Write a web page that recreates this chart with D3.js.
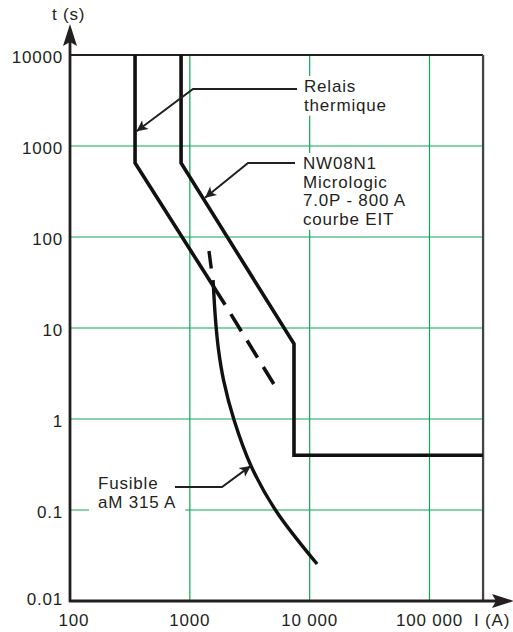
<!DOCTYPE html>
<html>
<head>
<meta charset="utf-8">
<script src="https://cdn.jsdelivr.net/npm/d3@7"></script>
<style>
    body { margin: 0; background: #fff; }
    svg text { font-family: "Liberation Sans", Arial, sans-serif; font-size: 17px; letter-spacing: 0.8px; fill: #231f20; }
</style>
</head>
<body>
<svg id="chart" width="513" height="632"></svg>
<script>
// ticks
const yTicks = [0.01, 0.1, 1, 10, 100, 1000, 10000]
const yTickLabels = ['0.01', '0.1', '1', '10', '100', '1000', '10000']
const xTicks = [100, 1000, 10000, 100000]
const xTickLabels = ['100', '1000', '10 000', '100 000']
const xMax = 280000

// curves [I (A), t (s)]
const relayCurve = [[349, 10000], [349, 650], [1970, 18]]
const relayDashed = [[1970, 18], [5110, 2.33]]
const micrologicCurve = [[845, 10000], [845, 650], [7400, 6.7], [7400, 0.4], [280000, 0.4]]
const fuseDashed = [[1445, 70], [1510, 45]]
const fuseCurve = [[1563, 33.6], [1639, 12.2], [1736, 5.73], [1911, 2.68], [2339, 0.975],
    [3243, 0.305], [5246, 0.0975], [11530, 0.0255]]

// labels
const relayLabel = ['Relais', 'thermique']
const micrologicLabel = ['NW08N1', 'Micrologic', '7.0P - 800 A', 'courbe EIT']
const fuseLabel = ['Fusible', 'aM 315 A']
const relayTarget = [349, 1450]
const micrologicTarget = [1340, 270]
const fuseTarget = [3220, 0.305]

const ink = '#231f20'
const gridGreen = '#0aa956'

const svg = d3.select('#chart')

const x = d3.scaleLog().domain([100, 100000]).range([70, 429.5])
const y = d3.scaleLog().domain([0.01, 10000]).range([601, 55])
const plotLeft = x(100), plotRight = x(xMax), plotTop = y(10000), plotBottom = y(0.01)

svg.append('defs').append('marker')
    .attr('id', 'arrow')
    .attr('viewBox', '0 0 10 10')
    .attr('refX', 10).attr('refY', 5)
    .attr('markerWidth', 15).attr('markerHeight', 11)
    .attr('markerUnits', 'userSpaceOnUse')
    .attr('orient', 'auto')
    .append('path').attr('d', 'M0,0 L10,5 L0,10 L2.5,5 Z').attr('fill', ink)

// grid
svg.append('g').selectAll('line')
    .data(yTicks.filter(d => d > 0.01 && d < 10000))
    .join('line')
    .attr('x1', plotLeft).attr('x2', plotRight)
    .attr('y1', d => y(d)).attr('y2', d => y(d))
    .attr('stroke', gridGreen).attr('stroke-width', 1.2)

svg.append('g').selectAll('line')
    .data(xTicks.filter(d => d > 100))
    .join('line')
    .attr('x1', d => x(d)).attr('x2', d => x(d))
    .attr('y1', plotTop).attr('y2', plotBottom)
    .attr('stroke', gridGreen).attr('stroke-width', 1.2)

// frame
svg.append('line').attr('x1', plotLeft).attr('x2', plotRight).attr('y1', plotTop).attr('y2', plotTop)
    .attr('stroke', ink).attr('stroke-width', 2)
svg.append('line').attr('x1', plotRight).attr('x2', plotRight).attr('y1', plotTop).attr('y2', plotBottom)
    .attr('stroke', '#444').attr('stroke-width', 2.3)

// axes with arrows
svg.append('line').attr('x1', plotLeft).attr('x2', plotLeft).attr('y1', plotBottom + 1).attr('y2', 30)
    .attr('stroke', ink).attr('stroke-width', 2.8)
svg.append('path')
    .attr('d', `M${plotLeft},24 L${plotLeft - 7},46 L${plotLeft},42 L${plotLeft + 7},46 Z`)
    .attr('fill', ink)
svg.append('line').attr('x1', plotLeft - 1).attr('x2', 508).attr('y1', plotBottom).attr('y2', plotBottom)
    .attr('stroke', ink).attr('stroke-width', 2.8)
svg.append('path')
    .attr('d', `M514,${plotBottom} L492,${plotBottom - 7} L496,${plotBottom} L492,${plotBottom + 7} Z`)
    .attr('fill', ink)

// tick labels
svg.append('g').selectAll('text')
    .data(yTicks)
    .join('text')
    .attr('x', plotLeft - 7)
    .attr('y', d => y(d) + (d === 0.01 ? 4 : 8))
    .attr('text-anchor', 'end')
    .text((d, i) => yTickLabels[i])

svg.append('g').selectAll('text')
    .data(xTicks)
    .join('text')
    .attr('x', (d, i) => x(d) + (i === 0 ? 4 : 0))
    .attr('y', 626)
    .attr('text-anchor', 'middle')
    .text((d, i) => xTickLabels[i])

svg.append('text').attr('x', 52).attr('y', 20).text('t (s)')
svg.append('text').attr('x', 474).attr('y', 626).text('I (A)')

// curves
const line = d3.line().x(d => x(d[0])).y(d => y(d[1]))
const smooth = d3.line().x(d => x(d[0])).y(d => y(d[1])).curve(d3.curveCatmullRom.alpha(0.5))

svg.append('path').datum(relayCurve).attr('d', line)
    .attr('fill', 'none').attr('stroke', '#111').attr('stroke-width', 3.6).attr('stroke-linejoin', 'miter')
svg.append('path').datum(relayDashed).attr('d', line)
    .attr('fill', 'none').attr('stroke', '#111').attr('stroke-width', 3.6)
    .attr('stroke-dasharray', '20 11').attr('stroke-dashoffset', 20)
svg.append('path').datum(micrologicCurve).attr('d', line)
    .attr('fill', 'none').attr('stroke', '#111').attr('stroke-width', 3.6).attr('stroke-linejoin', 'miter')
svg.append('path').datum(fuseDashed).attr('d', line)
    .attr('fill', 'none').attr('stroke', '#111').attr('stroke-width', 3.4)
svg.append('path').datum(fuseCurve).attr('d', smooth)
    .attr('fill', 'none').attr('stroke', '#111').attr('stroke-width', 3.4)

// annotations
function label(lines, tx, baseline, pad, leader) {
    const g = svg.append('g')
    const lh = 18.6
    const t = g.append('text')
    lines.forEach((s, i) => t.append('tspan').attr('x', tx).attr('y', baseline + i * lh).text(s))
    const bb = t.node().getBBox()
    g.insert('rect', 'text')
        .attr('x', bb.x - pad).attr('y', bb.y - 1)
        .attr('width', bb.width + 2 * pad).attr('height', bb.height + 2)
        .attr('fill', '#fff')
    svg.append('path')
        .attr('d', d3.line()(leader))
        .attr('fill', 'none').attr('stroke', ink).attr('stroke-width', 2)
        .attr('marker-end', 'url(#arrow)')
}

label(relayLabel, 304, 92, 3,
    [[297, 89], [193, 89], [x(relayTarget[0]) + 1.5, y(relayTarget[1])]])
label(micrologicLabel, 303, 169, 3,
    [[295, 163], [248, 163], [x(micrologicTarget[0]), y(micrologicTarget[1])]])
label(fuseLabel, 98, 489, 9,
    [[175, 487], [222, 487], [x(fuseTarget[0]), y(fuseTarget[1])]])
</script>
</body>
</html>
